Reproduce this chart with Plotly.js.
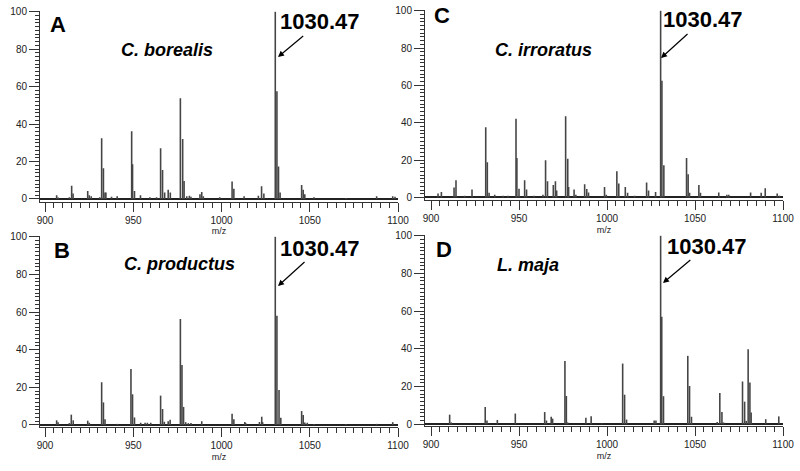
<!DOCTYPE html>
<html>
<head>
<meta charset="utf-8">
<script src="https://cdn.plot.ly/plotly-3.0.1.min.js"></script>
<style>html,body{margin:0;padding:0;background:#fff;}#chart{width:800px;height:471px;}</style>
</head>
<body>
<div id="chart"></div>
<script>
// ---- Data (m/z, relative intensity) ----
const mzA  = [906.6, 907.5, 913.8, 915.1, 915.9, 924.2, 925.1, 926.2, 931.0, 932.1, 933.1, 934.0, 934.5, 937.7, 940.9, 949.1, 949.6, 950.7, 954.1, 959.4, 963.2, 965.5, 966.6, 967.8, 969.8, 971.0, 976.7, 978.0, 978.8, 980.3, 981.8, 982.7, 987.8, 988.8, 989.7, 999.0, 1006.0, 1007.0, 1012.8, 1020.9, 1022.7, 1024.0, 1030.47, 1031.4, 1032.3, 1033.2, 1045.4, 1046.3, 1047.2, 1052.4, 1070.5, 1087.9, 1097.0, 1098.3];
const intA = [2.0, 0.8, 1.0, 7.1, 3.0, 4.3, 2.0, 1.5, 1.0, 32.4, 16.4, 3.5, 3.5, 1.2, 1.5, 36.2, 18.5, 4.3, 2.0, 1.0, 1.0, 27.1, 15.5, 3.5, 5.0, 3.5, 53.8, 32.0, 9.6, 1.5, 1.8, 1.2, 2.5, 3.8, 1.5, 1.0, 9.3, 5.5, 1.5, 1.8, 6.8, 3.0, 100, 57.5, 17.3, 3.5, 7.5, 5.0, 2.5, 1.0, 0.5, 1.5, 1.5, 1.2];

const mzB  = [906.6, 907.4, 913.8, 914.9, 916.0, 924.2, 925.1, 932.1, 933.1, 934.0, 941.0, 948.7, 949.6, 950.7, 954.2, 956.7, 958.0, 959.9, 965.5, 966.6, 967.6, 969.8, 970.9, 976.7, 977.6, 978.5, 979.7, 981.2, 982.7, 988.8, 1006.0, 1007.0, 1013.2, 1013.7, 1021.5, 1022.8, 1023.3, 1030.47, 1031.4, 1032.6, 1033.6, 1045.4, 1046.3, 1047.2, 1048.6, 1052.4, 1070.5, 1087.9, 1097.0];
const intB = [2.5, 1.5, 1.0, 5.5, 2.5, 2.3, 1.2, 22.7, 12.0, 3.0, 0.6, 29.7, 16.3, 4.0, 1.2, 1.2, 1.2, 1.2, 15.6, 8.5, 1.7, 2.0, 2.8, 56.3, 31.9, 9.6, 1.5, 1.0, 1.0, 2.0, 6.0, 3.0, 1.6, 1.0, 1.6, 4.4, 1.5, 100, 58.0, 18.6, 3.9, 7.4, 5.3, 1.3, 1.2, 0.6, 0.5, 0.6, 1.5];

const mzC  = [904.0, 905.9, 913.1, 914.2, 919.1, 923.3, 931.1, 932.0, 933.0, 936.2, 940.9, 943.7, 948.3, 948.8, 950.0, 953.2, 954.3, 958.5, 963.6, 965.1, 966.2, 969.5, 970.7, 971.4, 976.5, 977.7, 978.2, 981.3, 982.3, 987.3, 988.5, 989.5, 998.6, 999.6, 1005.6, 1006.7, 1010.4, 1011.7, 1015.7, 1022.5, 1023.6, 1027.6, 1030.47, 1031.2, 1032.3, 1045.2, 1046.1, 1046.9, 1052.2, 1053.1, 1063.5, 1068.1, 1069.2, 1081.6, 1087.6, 1089.9, 1096.7, 1098.0];
const intC = [2.1, 3.0, 5.3, 9.3, 1.0, 4.3, 37.6, 18.9, 2.5, 1.5, 1.0, 1.0, 42.1, 21.2, 4.7, 9.3, 4.3, 1.0, 1.5, 20.0, 8.7, 6.7, 8.7, 3.8, 43.5, 20.7, 5.6, 4.3, 1.5, 7.1, 4.6, 2.7, 5.6, 1.5, 14.1, 7.5, 5.6, 2.5, 1.0, 8.0, 3.7, 3.0, 100, 62.5, 17.3, 21.2, 12.5, 2.5, 6.7, 2.5, 2.7, 1.5, 1.5, 2.7, 2.5, 5.0, 2.1, 1.0];

const mzD  = [910.6, 911.5, 930.8, 931.8, 937.7, 947.9, 964.6, 965.6, 968.3, 969.1, 976.1, 976.9, 977.6, 988.0, 991.0, 997.0, 1008.9, 1010.0, 1011.1, 1026.8, 1027.8, 1030.47, 1031.1, 1032.1, 1045.9, 1046.9, 1048.0, 1062.6, 1064.1, 1065.3, 1066.2, 1077.0, 1078.2, 1079.1, 1080.2, 1081.2, 1081.9, 1090.2, 1097.6];
const intD = [5.1, 1.0, 9.2, 2.0, 2.3, 5.7, 6.5, 2.0, 4.0, 3.0, 33.6, 15.0, 1.0, 3.5, 4.2, 0.5, 32.2, 15.7, 2.5, 2.0, 2.0, 100, 57.0, 14.9, 36.3, 20.3, 4.0, 1.2, 16.6, 6.5, 1.0, 22.7, 12.0, 1.8, 39.8, 22.2, 6.2, 2.7, 4.2];

const panelLetters = ['A', 'B', 'C', 'D'];
const speciesNames = ['C. borealis', 'C. productus', 'C. irroratus', 'L. maja'];
const peakLabel = '1030.47';
const xTitle = 'm/z';

// ---- Layout geometry (pixels in an 800x471 canvas) ----
const W = 800, H = 471;
const px = v => v / W;
const py = v => 1 - v / H;
const FONT = 'Liberation Sans, Arial, Helvetica, sans-serif';
const YMAX = 100.3;
const AXIS = '#333';

const panels = [
  {mz: mzA, it: intA, yAxisX: 40,  x900: 45,  x1100: 398, y0: 199,   y100: 11.7,  xAxisY: 201.5,
   letter: [58, 25], species: [167, 50], label: [320, 22], tip: [278, 57]},
  {mz: mzB, it: intB, yAxisX: 40,  x900: 45,  x1100: 398, y0: 425,   y100: 236.7, xAxisY: 427,
   letter: [62, 250], species: [179, 264], label: [320, 248], tip: [278, 286]},
  {mz: mzC, it: intC, yAxisX: 425, x900: 431, x1100: 783, y0: 197.5, y100: 10.7,  xAxisY: 200,
   letter: [442, 16], species: [543, 50], label: [703, 20], tip: [661, 58]},
  {mz: mzD, it: intD, yAxisX: 425, x900: 431, x1100: 783, y0: 424.3, y100: 235.7, xAxisY: 426,
   letter: [444, 249], species: [528, 265], label: [707, 246], tip: [663, 283]}
];

const data = [];
const layout = {
  width: W, height: H,
  margin: {l: 0, r: 0, t: 0, b: 0},
  paper_bgcolor: '#fff', plot_bgcolor: '#fff',
  showlegend: false,
  font: {family: FONT, color: '#222'},
  annotations: []
};

panels.forEach((p, i) => {
  const n = i === 0 ? '' : String(i + 1);
  data.push({
    type: 'bar', x: p.mz, y: p.it,
    xaxis: 'x' + n, yaxis: 'y' + n,
    width: 0.9,
    marker: {color: '#454545', line: {width: 0}},
    hoverinfo: 'x+y'
  });
  const scale = (p.y0 - p.y100) / 100;           // px per intensity unit
  const yMin = -(p.xAxisY - p.y0) / scale;
  const yTop = p.y100 - (YMAX - 100) * scale;
  const xScale = (p.x1100 - p.x900) / 200;       // px per m/z unit
  const xMin = 900 - (p.x900 - p.yAxisX) / xScale;
  layout['xaxis' + n] = {
    domain: [px(p.yAxisX), px(p.x1100)], range: [xMin, 1100], anchor: 'y' + n,
    showline: true, linecolor: AXIS, linewidth: 1,
    ticks: 'outside', ticklen: 9, tickwidth: 1, tickcolor: AXIS,
    dtick: 50,
    minor: {ticks: 'outside', ticklen: 5, dtick: 5, tickcolor: AXIS, tickwidth: 1},
    tickfont: {size: 10, color: '#222', family: FONT},
    showgrid: false, zeroline: false,
    title: {text: xTitle, font: {size: 9, color: '#222', family: FONT}, standoff: 3}
  };
  layout['yaxis' + n] = {
    domain: [py(p.xAxisY), py(yTop)], range: [yMin, YMAX], anchor: 'x' + n,
    showline: true, linecolor: AXIS, linewidth: 1,
    ticks: 'outside', ticklen: 10, tickwidth: 1, tickcolor: AXIS,
    dtick: 20,
    minor: {ticks: 'outside', ticklen: 4, dtick: 2, tickcolor: AXIS, tickwidth: 1},
    tickfont: {size: 10, color: '#222', family: FONT},
    showgrid: false,
    zeroline: true, zerolinecolor: '#222', zerolinewidth: 2
  };

  layout.annotations.push({
    xref: 'paper', yref: 'paper', x: px(p.letter[0]), y: py(p.letter[1]),
    xanchor: 'center', yanchor: 'middle', showarrow: false,
    text: '<b>' + panelLetters[i] + '</b>',
    font: {size: 22, color: '#000', family: FONT}
  });
  layout.annotations.push({
    xref: 'paper', yref: 'paper', x: px(p.species[0]), y: py(p.species[1]),
    xanchor: 'center', yanchor: 'middle', showarrow: false,
    text: '<b><i>' + speciesNames[i] + '</i></b>',
    font: {size: 18, color: '#000', family: FONT}
  });
  layout.annotations.push({
    xref: 'paper', yref: 'paper', x: px(p.tip[0]), y: py(p.tip[1]),
    showarrow: true, arrowhead: 2, arrowsize: 1, arrowwidth: 1.2, arrowcolor: '#000',
    ax: p.label[0] - p.tip[0], ay: p.label[1] - p.tip[1],
    text: '<b>' + peakLabel + '</b>',
    font: {size: 22, color: '#000', family: FONT}
  });
});

Plotly.newPlot('chart', data, layout, {staticPlot: true, displayModeBar: false});
</script>
</body>
</html>
